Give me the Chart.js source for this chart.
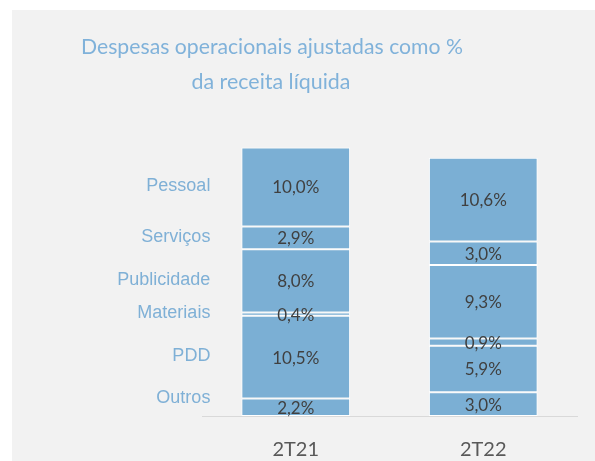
<!DOCTYPE html>
<html>
<head>
<meta charset="utf-8">
<script src="https://cdn.jsdelivr.net/npm/chart.js@4"></script>
<style>
    html, body { margin: 0; padding: 0; background: #ffffff; }
    #wrap { position: absolute; left: 12px; top: 10px; width: 583px; height: 451px; background: #f2f2f2; overflow: hidden; }
</style>
</head>
<body>
<div id="wrap"><canvas id="chartBar" width="583" height="474"></canvas></div>
<script>
const categories = ['2T21', '2T22'];
// bottom to top of the stack
const seriesNames = ['Outros', 'PDD', 'Materiais', 'Publicidade', 'Serviços', 'Pessoal'];
const outros = [2.2, 3.0];
const pdd = [10.5, 5.9];
const materiais = [0.4, 0.9];
const publicidade = [8.0, 9.3];
const servicos = [2.9, 3.0];
const pessoal = [10.0, 10.6];
const titleLines = ['Despesas operacionais ajustadas como %', 'da receita líquida'];

const seriesValues = [outros, pdd, materiais, publicidade, servicos, pessoal];

const barColor = '#7bafd4';

const data = {
    labels: categories,
    datasets: seriesNames.map((name, i) => ({
        label: name,
        data: seriesValues[i],
        backgroundColor: barColor,
        borderColor: '#ffffff',
        borderWidth: 1,
        borderSkipped: false,
        barPercentage: 0.58,
        categoryPercentage: 1,
    }))
};

// title, series names on the left and value labels inside the bars
const labelPlugin = {
    id: 'labelPlugin',
    afterDatasetsDraw(chart) {
        const ctx = chart.ctx;
        const area = chart.chartArea;
        ctx.save();

        ctx.fillStyle = '#80b2da';
        ctx.font = '22px Lato';
        ctx.textAlign = 'center';
        ctx.textBaseline = 'middle';
        // squeeze a little, the original face is narrower than Lato
        ctx.fillText(titleLines[0], 260, 37, 382);
        ctx.fillText(titleLines[1], 259, 72, 159);

        chart.data.datasets.forEach((ds, i) => {
            const meta = chart.getDatasetMeta(i);
            meta.data.forEach((bar, j) => {
                const mid = (bar.y + bar.base) / 2;
                ctx.fillStyle = '#404040';
                ctx.font = '17px Lato';
                ctx.textAlign = 'center';
                ctx.textBaseline = 'middle';
                ctx.fillText(ds.data[j].toFixed(1).replace('.', ',') + '%', bar.x, mid + 1);

                if (j === 0) {
                    ctx.fillStyle = '#7fb0d6';
                    ctx.font = '18px "Liberation Sans"';
                    ctx.textAlign = 'right';
                    const ly = Math.min(mid - 1, area.bottom - 18);
                    ctx.fillText(ds.label, bar.x - bar.width / 2 - 31, ly);
                }
            });
        });
        ctx.restore();
    }
};

const configBarChart = {
    type: 'bar',
    data,
    options: {
        responsive: false,
        animation: false,
        layout: {
            padding: { top: 90, left: 190, right: 18, bottom: 0 }
        },
        scales: {
            x: {
                stacked: true,
                grid: { display: false, drawTicks: false },
                border: { display: true, color: '#d9d9d9', width: 1 },
                ticks: {
                    padding: 22,
                    color: '#595959',
                    font: { family: 'Lato', size: 20 }
                }
            },
            y: {
                stacked: true,
                display: false,
                min: 0,
                max: 40
            }
        },
        plugins: {
            legend: { display: false },
            title: { display: false },
            tooltip: { enabled: false }
        }
    },
    plugins: [labelPlugin]
};

var chartBar = new Chart(
    document.getElementById('chartBar'),
    configBarChart
);
</script>
</body>
</html>
